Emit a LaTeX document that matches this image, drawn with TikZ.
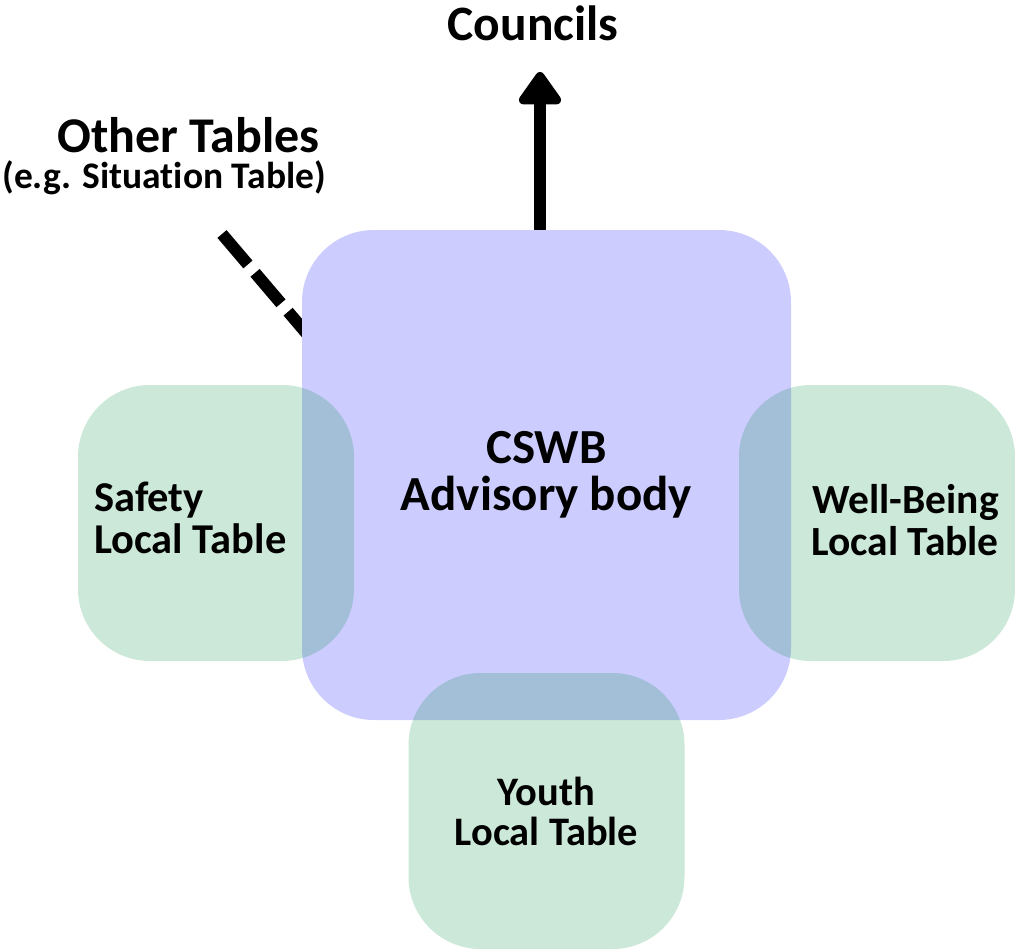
\documentclass[tikz,border=0pt]{standalone}
\usepackage{fontspec}
\setmainfont{Carlito}[Ligatures=NoCommon]
\usetikzlibrary{arrows.meta}
\definecolor{cswbfill}{RGB}{204,204,255}
\definecolor{tablegreen}{RGB}{0,140,60}
\tikzset{
  mainbox/.style={fill=cswbfill, rounded corners=72pt, minimum width=489pt,
    minimum height=490pt, inner sep=0pt, align=center,
    font=\bfseries\fontsize{49}{47}\selectfont},
  tablebox/.style={fill=tablegreen, fill opacity=0.2, text opacity=1,
    rounded corners=72pt, minimum width=276pt, minimum height=276pt,
    inner sep=0pt, align=center, font=\bfseries\fontsize{40.5}{40}\selectfont},
  tabletext/.style={inner sep=0pt},
  bigtitle/.style={inner sep=0pt, anchor=base, font=\bfseries\fontsize{49.5}{52}\selectfont},
  linkline/.style={line width=12pt, dash pattern=on 40pt off 11pt},
  upline/.style={line width=12pt, -{Triangle[length=36pt,width=48pt,round]}}
}
\begin{document}
\begin{tikzpicture}[x=1pt,y=-1pt]
\useasboundingbox (0,0) rectangle (1015,951);
% dashed link from other tables (drawn below the main box)
\coordinate (otstart) at (222,234);
\coordinate (otend) at (319,348);
\draw[linkline] (otstart) -- (otend);
% main box
\node[mainbox] (cswb) at (546.5,475) {CSWB\\Advisory body};
% local tables
\node[tablebox] (safety) at (216,523) {};
\node[tablebox] (wellbeing) at (877,523) {};
\node[tablebox] (youth) at (546.5,811) {Youth\\Local Table};
\node[tabletext, align=left, anchor=west, font=\bfseries\fontsize{42.5}{42}\selectfont] (safetytext) at (94,518) {Safety\\Local Table};
\node[tabletext, align=right, anchor=east, font=\bfseries\fontsize{41.5}{42}\selectfont] (wellbeingtext) at (999,520) {Well-Being\\Local Table};
% councils
\node[bigtitle] (councils) at (533,40) {Councils};
\coordinate (arrowtip) at (540,72);
\draw[upline] (arrowtip |- cswb.north) -- (arrowtip);
% other tables
\node[inner sep=0pt, anchor=base east, font=\bfseries\fontsize{50}{52}\selectfont] (othertables) at (320,152) {Other Tables};
\node[inner sep=0pt, anchor=base east, font=\bfseries\fontsize{37.5}{40}\selectfont] (othereg) at (326,188) {(e.g. Situation Table)};
\end{tikzpicture}
\end{document}
